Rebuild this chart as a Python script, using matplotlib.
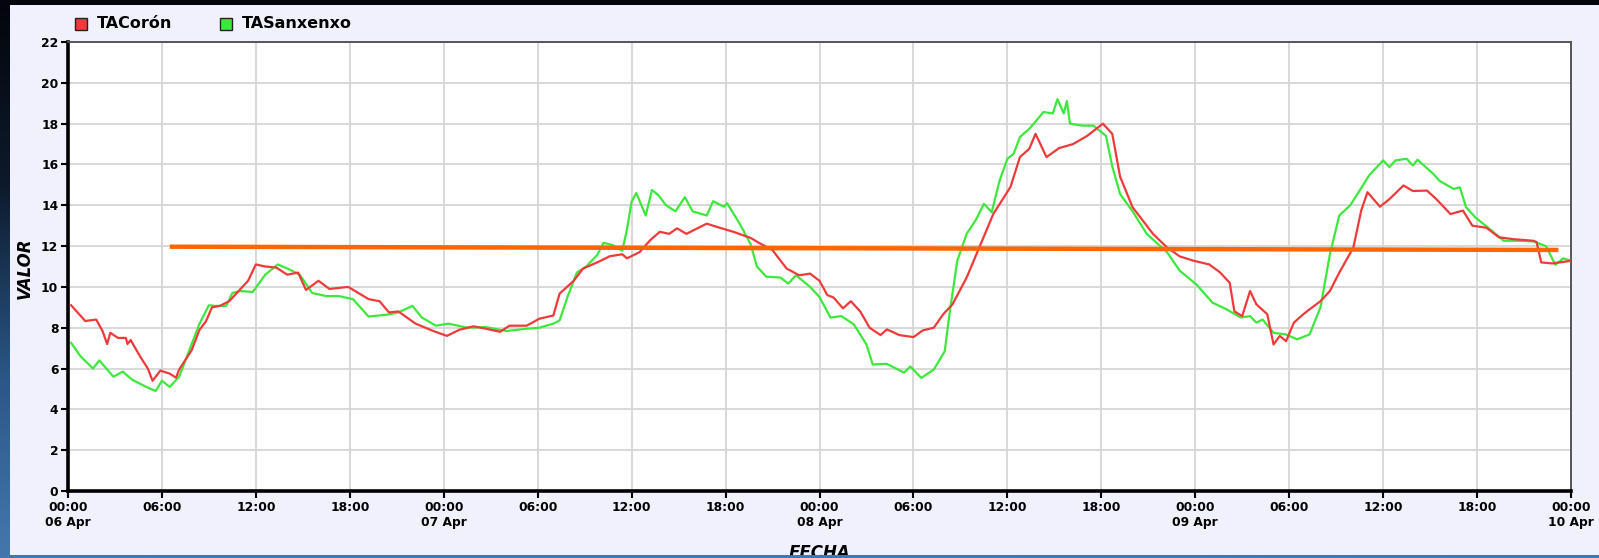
import numpy as np
import matplotlib
matplotlib.use('Agg')
import matplotlib.pyplot as plt
import matplotlib.patches as patches
from matplotlib.transforms import Bbox, TransformedBbox

matplotlib.rcParams['font.family'] = 'DejaVu Sans'

# hours since 00:00 06 Apr
tac_h = [0.2, 1.1, 1.8, 2.2, 2.5, 2.7, 3.2, 3.7, 3.8, 4.0, 4.6, 5.1, 5.4, 5.9, 6.5,
         6.9, 7.1, 7.9, 8.4, 8.8, 9.2, 9.7, 10.3, 10.9, 11.5, 12.0, 12.6, 13.3, 14.0,
         14.7, 15.2, 16.0, 16.7, 17.9, 19.2, 19.9, 20.5, 21.1, 22.2, 23.3, 24.2, 25.0,
         25.9, 26.7, 27.6, 28.2, 29.3, 30.1, 31.0, 31.4, 32.3, 32.9, 33.8, 34.6, 35.4,
         35.7, 36.5, 37.2, 37.8, 38.4, 38.9, 39.5, 40.8, 41.4, 42.5, 43.6, 44.2, 45.0,
         45.9, 46.7, 47.4, 48.0, 48.5, 48.9, 49.5, 50.0, 50.6, 51.2, 51.9, 52.3, 53.1,
         54.0, 54.6, 55.3, 55.9, 56.5, 57.4, 58.3, 59.1, 60.2, 60.8, 61.4, 61.8, 62.5,
         63.3, 64.2, 65.1, 66.1, 66.7, 67.2, 68.0, 69.3, 70.2, 71.0, 71.9, 72.9, 73.6,
         74.2, 74.5, 75.0, 75.5, 75.9, 76.6, 77.0, 77.4, 77.8, 78.3, 78.9, 79.3, 80.0,
         80.6, 81.2, 82.1, 82.6, 83.0, 83.8, 84.4, 85.3, 85.9, 86.8, 87.4, 88.3, 89.1,
         89.7, 90.6, 91.4, 92.3, 93.6, 93.8, 94.1, 94.8, 96.0]
tac_v = [9.1, 8.33, 8.4, 7.85, 7.2, 7.75, 7.5, 7.5, 7.2, 7.4, 6.6, 6.0, 5.4, 5.9, 5.75,
         5.55, 5.95, 6.9, 7.9, 8.3, 9.0, 9.07, 9.3, 9.8, 10.3, 11.1, 11.0, 10.95, 10.6,
         10.7, 9.85, 10.3, 9.9, 10.0, 9.4, 9.3, 8.75, 8.8, 8.2, 7.85, 7.6, 7.9,
         8.07, 7.95, 7.8, 8.1, 8.1, 8.44, 8.6, 9.67, 10.3, 10.9, 11.2, 11.5, 11.6,
         11.4, 11.7, 12.3, 12.7, 12.6, 12.87, 12.6, 13.1, 12.95, 12.7, 12.4, 12.13, 11.8,
         10.9, 10.57, 10.65, 10.3, 9.6, 9.48, 8.95, 9.3, 8.8, 8.0, 7.64, 7.92, 7.64,
         7.54, 7.87, 8.0, 8.66, 9.15, 10.46, 12.1, 13.57, 14.9, 16.36, 16.77, 17.5, 16.36,
         16.8, 17.0, 17.4, 18.0, 17.5, 15.4, 13.9, 12.6, 11.93, 11.5, 11.28, 11.1, 10.7,
         10.2, 8.8, 8.57, 9.8, 9.15, 8.66, 7.18, 7.6, 7.34, 8.25, 8.66, 8.9, 9.3,
         9.8, 10.7, 11.93, 13.74, 14.64, 13.93, 14.3, 14.97, 14.7, 14.72, 14.3, 13.57, 13.74,
         13.0, 12.9, 12.43, 12.34, 12.26, 12.2, 11.2, 11.15, 11.28]

tas_h = [0.2, 0.8, 1.6, 2.0, 2.9, 3.5, 4.1, 5.0, 5.6, 6.0, 6.5, 7.1, 7.7, 8.4, 9.0,
         9.4, 10.1, 10.5, 11.0, 11.8, 12.6, 13.4, 14.1, 14.8, 15.6, 16.5, 17.3, 18.2,
         19.2, 20.5, 21.1, 22.0, 22.6, 23.5, 24.3, 25.5, 26.7, 28.0, 29.3, 30.1, 31.0,
         31.4, 31.9, 32.5, 33.1, 33.8, 34.2, 34.8, 35.4, 35.7, 36.0, 36.3, 36.9, 37.3,
         37.7, 38.2, 38.8, 39.4, 39.9, 40.8, 41.2, 41.9, 42.1, 42.9, 43.6, 44.0, 44.6,
         45.5, 46.0, 46.5, 47.4, 48.0, 48.7, 49.4, 50.2, 51.0, 51.4, 52.3, 53.4, 53.8,
         54.5, 55.3, 56.0, 56.3, 56.8, 57.4, 58.0, 58.5, 59.0, 59.5, 60.0, 60.4, 60.8,
         61.4, 61.8, 62.3, 62.9, 63.2, 63.6, 63.8, 64.0, 64.8, 65.5, 66.3, 66.7, 67.2,
         68.0, 68.9, 70.2, 71.0, 72.1, 73.1, 74.0, 74.9, 75.5, 75.9, 76.3, 77.0, 77.8,
         78.5, 79.3, 80.0, 80.6, 81.2, 81.9, 82.5, 83.1, 84.0, 84.4, 84.8, 85.5, 85.9,
         86.2, 87.2, 87.6, 88.5, 88.9, 89.3, 89.9, 90.8, 91.7, 92.7, 93.6, 94.4, 95.0,
         95.5, 96.0]
tas_v = [7.26, 6.6, 6.0, 6.4, 5.6, 5.85, 5.45, 5.1, 4.9, 5.4, 5.1, 5.6, 6.8, 8.2, 9.1,
         9.07, 9.07, 9.7, 9.8, 9.75, 10.6, 11.1, 10.87, 10.6, 9.7, 9.55, 9.55, 9.4,
         8.55, 8.65, 8.75, 9.07, 8.5, 8.1, 8.2, 8.0, 8.03, 7.84, 7.95, 8.0, 8.2,
         8.36, 9.5, 10.7, 11.0, 11.56, 12.16, 12.05, 11.77, 12.8, 14.18, 14.6, 13.5, 14.75,
         14.5, 14.0, 13.7, 14.4, 13.7, 13.5, 14.2, 13.93, 14.1, 13.1, 12.1, 11.0, 10.5,
         10.46, 10.16, 10.57, 10.0, 9.5, 8.5, 8.57, 8.16, 7.18, 6.2, 6.23, 5.8, 6.1,
         5.54, 5.95, 6.85, 8.66, 11.28, 12.6, 13.3, 14.07, 13.66, 15.2, 16.28, 16.52, 17.34,
         17.75, 18.1, 18.57, 18.5, 19.2, 18.5, 19.1, 18.0, 17.9, 17.9, 17.4, 15.9, 14.55,
         13.7, 12.6, 11.7, 10.8, 10.1, 9.23, 8.9, 8.5, 8.57, 8.25, 8.4, 7.75, 7.67,
         7.43, 7.67, 9.0, 11.6, 13.5, 14.0, 14.72, 15.46, 16.2, 15.87, 16.2, 16.28, 15.95,
         16.23, 15.54, 15.2, 14.8, 14.88, 13.9, 13.4, 12.84, 12.26, 12.26, 12.23, 12.0, 11.08,
         11.4, 11.28]

# hand-drawn orange reference line
ref_h = [6.5, 95.2]
ref_v = [11.97, 11.81]

days = ['06 Apr', '07 Apr', '08 Apr', '09 Apr', '10 Apr']

W, H = 1599, 558
fig = plt.figure(figsize=(W / 100, H / 100), dpi=100)

# dark slide background
bg = fig.add_axes([0, 0, 1, 1], zorder=-10)
grad = np.linspace(0, 1, 256).reshape(-1, 1)
cmap_bg = matplotlib.colors.LinearSegmentedColormap.from_list(
    'bg', ['#03060c', '#0d1a2c', '#2a5584', '#4478ad'])
bg.imshow(grad, aspect='auto', cmap=cmap_bg, extent=[0, 1, 0, 1])
bg.axis('off')

# lavender chart panel
panel = patches.Rectangle((10 / W, 1 - 555 / H), 1 - 10 / W, (555 - 5) / H,
                          transform=fig.transFigure, facecolor='#f1f0fd',
                          edgecolor='none', zorder=-5)
fig.add_artist(panel)

ax = fig.add_axes([68 / W, 1 - 491 / H, (1571 - 68) / W, (491 - 42) / H])
ax.set_facecolor('white')

ax.plot(tac_h, tac_v, color='#ee3a3a', linewidth=1.6, zorder=3)
ax.plot(tas_h, tas_v, color='#3de83d', linewidth=1.6, zorder=2)
ax.plot(ref_h, ref_v, color='#ff6600', linewidth=3.2, solid_capstyle='butt', zorder=4)

ax.set_xlim(0, 96)
ax.set_ylim(0, 22)
ax.set_yticks(range(0, 23, 2))
xt = list(range(0, 97, 6))
labels = []
for h in xt:
    lab = f'{h % 24:02d}:00'
    if h % 24 == 0:
        lab += '\n' + days[h // 24]
    labels.append(lab)
ax.set_xticks(xt)
ax.set_xticklabels(labels)

ax.grid(True, color='#d6d6d6', linewidth=1.3)
ax.set_axisbelow(True)
ax.tick_params(axis='both', direction='out', length=5, width=1.5, color='black',
               labelsize=8.8, pad=2)
for lab in ax.get_xticklabels() + ax.get_yticklabels():
    lab.set_fontweight('bold')
ax.spines['left'].set_linewidth(2.6)
ax.spines['bottom'].set_linewidth(2.6)
ax.spines['top'].set_linewidth(1.4)
ax.spines['right'].set_linewidth(1.4)
ax.spines['top'].set_color('#555555')
ax.spines['right'].set_color('#555555')

# axis titles
fig.text(25 / W, 1 - 268 / H, 'VALOR', rotation=90, ha='center', va='center',
         fontsize=12, fontweight='bold', fontstyle='italic')
t = fig.text(820 / W, 1 - 544 / H, 'FECHA', ha='center', va='top',
             fontsize=12, fontweight='bold', fontstyle='italic')
clip = TransformedBbox(Bbox.from_extents(0, 1 - 555 / H, 1, 1), fig.transFigure)
t.set_clip_box(clip)
t.set_clip_on(True)

# legend
for x0, col, name in [(75, '#ee3a3a', 'TACorón'), (220, '#3de83d', 'TASanxenxo')]:
    fig.add_artist(patches.Rectangle((x0 / W, 1 - 30 / H), 12 / W, 12 / H,
                                     transform=fig.transFigure, facecolor=col,
                                     edgecolor='#222222', linewidth=1.0))
    fig.text((x0 + 22) / W, 1 - 24 / H, name, ha='left', va='center',
             fontsize=11.5, fontweight='bold')

fig.savefig('out.png', dpi=100)
